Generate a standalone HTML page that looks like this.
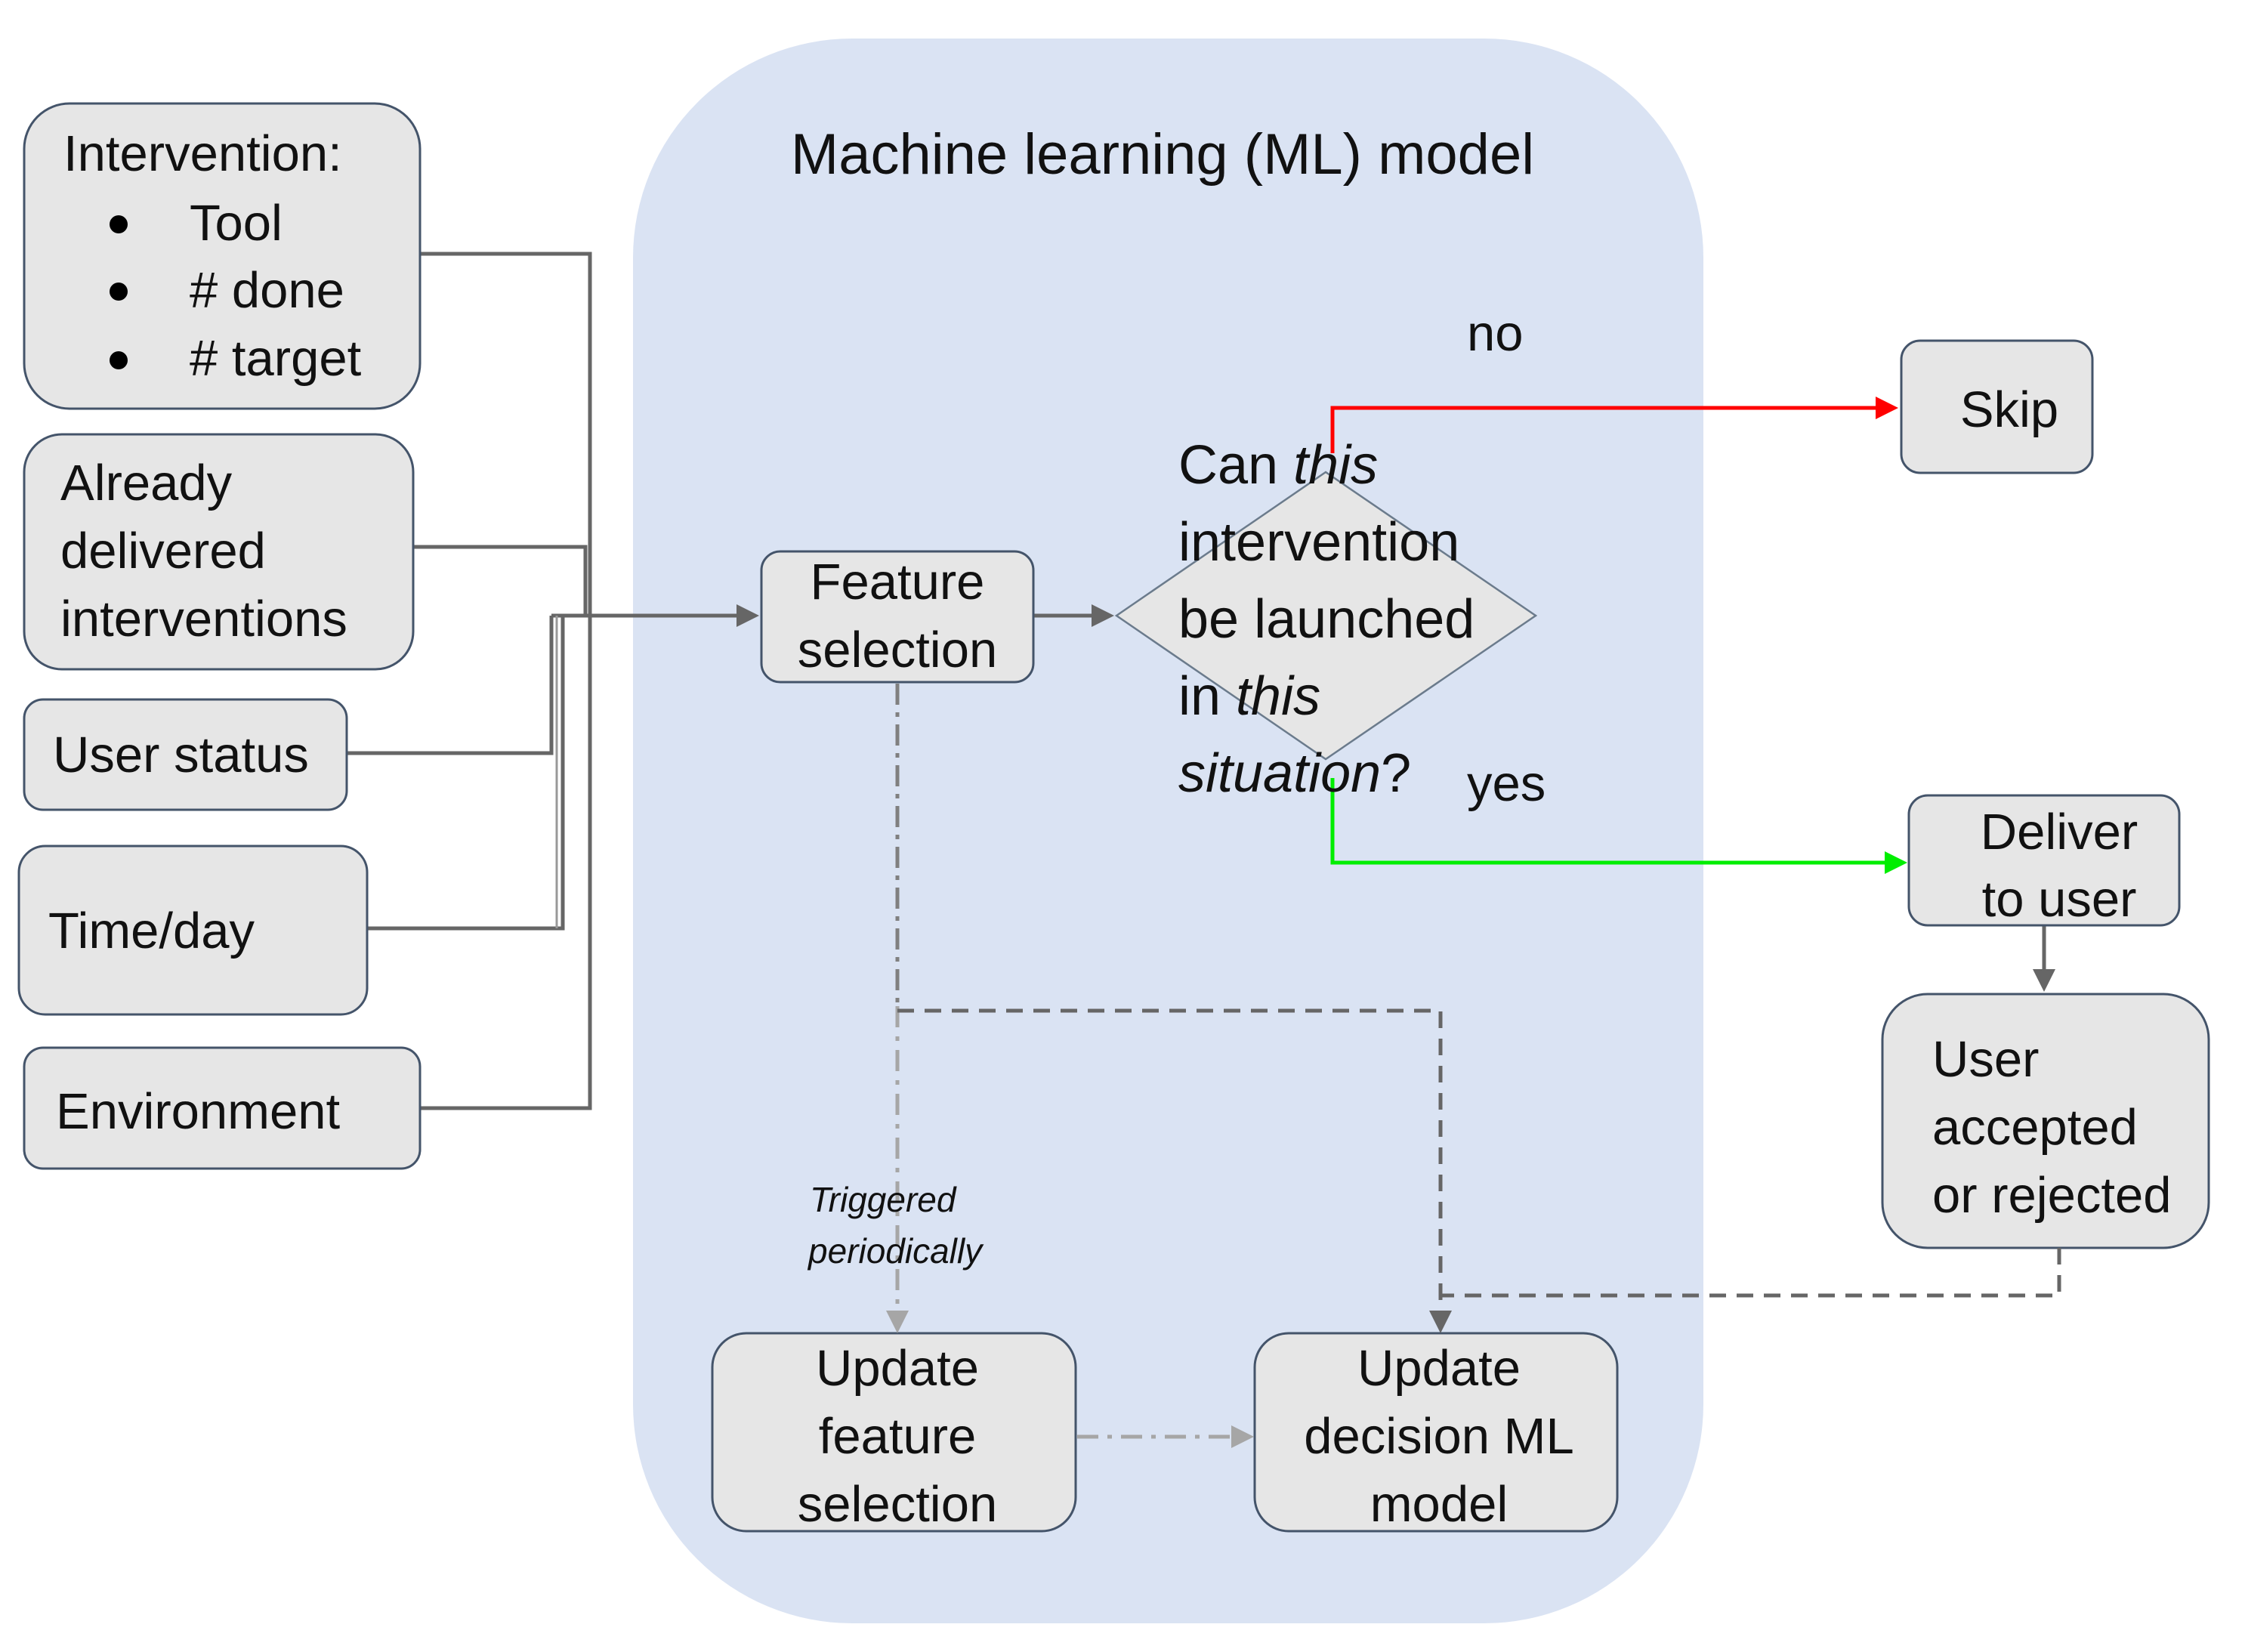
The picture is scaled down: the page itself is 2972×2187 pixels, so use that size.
<!DOCTYPE html>
<html><head><meta charset="utf-8"><style>
html,body{margin:0;padding:0;background:#fff;}
svg{display:block;}
text{font-family:"Liberation Sans",sans-serif;fill:#111;}
</style></head><body>
<svg width="2972" height="2187" viewBox="0 0 2972 2187" xmlns="http://www.w3.org/2000/svg">
<defs>
<marker id="ag" markerWidth="6" markerHeight="6" refX="5" refY="3" orient="auto" markerUnits="strokeWidth"><path d="M0,0 L6,3 L0,6 z" fill="#666"/></marker>
<marker id="al" markerWidth="6" markerHeight="6" refX="5" refY="3" orient="auto" markerUnits="strokeWidth"><path d="M0,0 L6,3 L0,6 z" fill="#a6a6a6"/></marker>
<marker id="ar" markerWidth="6" markerHeight="6" refX="5" refY="3" orient="auto" markerUnits="strokeWidth"><path d="M0,0 L6,3 L0,6 z" fill="#ff0000"/></marker>
<marker id="agr" markerWidth="6" markerHeight="6" refX="5" refY="3" orient="auto" markerUnits="strokeWidth"><path d="M0,0 L6,3 L0,6 z" fill="#00ee00"/></marker>
</defs>
<rect x="838" y="51" width="1417" height="2098" rx="290" fill="#dae3f3"/>
<text x="1539" y="230" font-size="76" text-anchor="middle">Machine learning (ML) model</text>

<g stroke="#666" stroke-width="5" fill="none">
<polyline points="556,336 781,336 781,1467 556,1467"/>
<polyline points="547,724 775,724 775,815"/>
<polyline points="459,997 730,997 730,815"/>
<polyline points="486,1229 745,1229 745,815"/>
<line x1="730" y1="815" x2="1000" y2="815" marker-end="url(#ag)"/>
<line x1="1368" y1="815" x2="1470" y2="815" marker-end="url(#ag)"/>
<line x1="2706" y1="1225" x2="2706" y2="1308" marker-end="url(#ag)"/>
</g>
<line x1="737" y1="815" x2="737" y2="1229" stroke="#999" stroke-width="3"/>

<g fill="#e6e6e6" stroke="#44546a" stroke-width="3">
<rect x="32" y="137" width="524" height="404" rx="60"/>
<rect x="32" y="575" width="515" height="311" rx="50"/>
<rect x="32" y="926" width="427" height="146" rx="25"/>
<rect x="25" y="1120" width="461" height="223" rx="35"/>
<rect x="32" y="1387" width="524" height="160" rx="25"/>
<rect x="1008" y="730" width="360" height="173" rx="25"/>
<rect x="2517" y="451" width="253" height="175" rx="25"/>
<rect x="2527" y="1053" width="358" height="172" rx="25"/>
<rect x="2492" y="1316" width="432" height="336" rx="60"/>
<rect x="943" y="1765" width="481" height="262" rx="45"/>
<rect x="1661" y="1765" width="480" height="262" rx="45"/>
</g>
<polygon points="1478,815 1755,625 2033,815 1755,1005" fill="#e6e6e6" stroke="#6b7b8c" stroke-width="2.5"/>

<g font-size="67">
<text x="84" y="226">Intervention:</text>
<circle cx="157" cy="297" r="12" fill="#000"/>
<circle cx="157" cy="386" r="12" fill="#000"/>
<circle cx="157" cy="477" r="12" fill="#000"/>
<text x="251" y="318">Tool</text>
<text x="251" y="407">#  done</text>
<text x="251" y="497">#  target</text>
<text x="80" y="662">Already</text>
<text x="80" y="752">delivered</text>
<text x="80" y="842">interventions</text>
<text x="70" y="1022">User  status</text>
<text x="64" y="1255">Time/day</text>
<text x="74" y="1494">Environment</text>
<text x="1188" y="793" text-anchor="middle">Feature</text>
<text x="1188" y="883" text-anchor="middle">selection</text>
<text x="2660" y="565" text-anchor="middle">Skip</text>
<text x="2726" y="1124" text-anchor="middle">Deliver</text>
<text x="2726" y="1213" text-anchor="middle">to user</text>
<text x="2558" y="1425">User</text>
<text x="2558" y="1515">accepted</text>
<text x="2558" y="1605">or rejected</text>
<text x="1188" y="1834" text-anchor="middle">Update</text>
<text x="1188" y="1924" text-anchor="middle">feature</text>
<text x="1188" y="2014" text-anchor="middle">selection</text>
<text x="1905" y="1834" text-anchor="middle">Update</text>
<text x="1905" y="1924" text-anchor="middle">decision ML</text>
<text x="1905" y="2014" text-anchor="middle">model</text>
<text x="1942" y="464">no</text>
<text x="1942" y="1060">yes</text>
</g>

<polyline points="1764,600 1764,540 2508,540" fill="none" stroke="#ff0000" stroke-width="5" marker-end="url(#ar)"/>
<polyline points="1764,1030 1764,1142 2520,1142" fill="none" stroke="#00ee00" stroke-width="5" marker-end="url(#agr)"/>

<g font-size="72">
<text x="1560" y="640">Can <tspan font-style="italic">this</tspan></text>
<text x="1560" y="742">intervention</text>
<text x="1560" y="844">be launched</text>
<text x="1560" y="946">in <tspan font-style="italic">this</tspan></text>
<text x="1560" y="1048"><tspan font-style="italic">situation</tspan>?</text>
</g>

<line x1="1188" y1="905" x2="1188" y2="1332" stroke="#808080" stroke-width="5" stroke-dasharray="28,10,6,10"/>
<line x1="1188" y1="1332" x2="1188" y2="1760" stroke="#a6a6a6" stroke-width="5" stroke-dasharray="28,12,6,12" marker-end="url(#al)"/>
<polyline points="1188,1338 1907,1338 1907,1760" fill="none" stroke="#666" stroke-width="5" stroke-dasharray="22,14" marker-end="url(#ag)"/>
<polyline points="2726,1652 2726,1715 1907,1715" fill="none" stroke="#666" stroke-width="5" stroke-dasharray="22,14"/>
<line x1="1426" y1="1902" x2="1655" y2="1902" stroke="#a6a6a6" stroke-width="5" stroke-dasharray="28,12,6,12" marker-end="url(#al)"/>

<g font-size="46" font-style="italic">
<text x="1072" y="1604">Triggered</text>
<text x="1070" y="1672">periodically</text>
</g>
</svg>
</body></html>
